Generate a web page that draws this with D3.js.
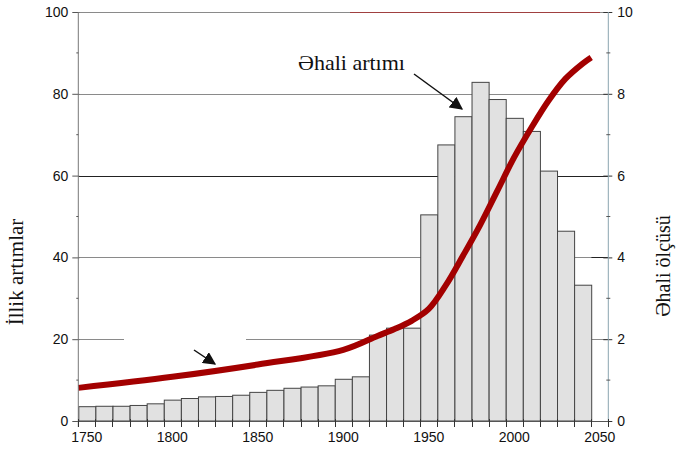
<!DOCTYPE html>
<html>
<head>
<meta charset="utf-8">
<script src="https://cdn.jsdelivr.net/npm/d3@7"></script>
<style>
  html, body { margin: 0; padding: 0; background: #fff; }
  svg { display: block; }
</style>
</head>
<body>
<svg id="chart" width="677" height="449"></svg>
<script>
// ---- data ----
const barYears = [1750,1760,1770,1780,1790,1800,1810,1820,1830,1840,1850,1860,1870,1880,1890,1900,1910,1920,1930,1940,1950,1960,1970,1980,1990,2000,2010,2020,2030,2040];
const annualIncrease = [3.5,3.6,3.6,3.8,4.2,5.1,5.5,5.9,6.0,6.3,7.0,7.5,8.0,8.3,8.6,10.2,10.8,21.0,22.7,22.7,50.4,67.5,74.4,82.8,78.6,74.0,70.8,61.1,46.4,33.2];
const popYears = [1745,1800,1850,1900,1920,1930,1940,1950,1960,1970,1980,1990,2000,2010,2020,2030,2040,2045];
const popSize  = [0.81,1.08,1.38,1.74,2.08,2.25,2.45,2.74,3.32,4.04,4.79,5.62,6.45,7.17,7.83,8.37,8.74,8.89];
const leftTicks = [0,20,40,60,80,100];
const rightTicks = [0,2,4,6,8,10];
const xLabels = [1750,1800,1850,1900,1950,2000,2050];
const leftTitle = "İllik artımlar";
const rightTitle = "Əhali ölçüsü";
const annotation = "Əhali artımı";

// ---- layout ----
const svg = d3.select("#chart");
const x0 = 78.3, x1 = 608.3, yTop = 12, yBot = 421;
const x = d3.scaleLinear().domain([1745, 2055]).range([x0, x1]);
const yL = d3.scaleLinear().domain([0, 100]).range([yBot, yTop]);
const yR = d3.scaleLinear().domain([0, 10]).range([yBot, yTop]);
const step = 10;

// gridlines
const grid = svg.append("g");
function hline(v, xa, xb, color, w) {
  grid.append("line").attr("x1", xa).attr("x2", xb)
    .attr("y1", Math.round(yL(v)) + 0.5).attr("y2", Math.round(yL(v)) + 0.5)
    .attr("stroke", color).attr("stroke-width", w || 1);
}
hline(100, x0, 350, "#8a8a8a");
hline(100, 350, 600, "#a04040");
hline(100, 600, x1, "#8a8a8a");
hline(80, x0, x1, "#8a8a8a");
hline(60, x0, x1, "#222");
hline(40, x0, x(2045), "#8a8a8a");
hline(40, x(2045), x1, "#222");
hline(20, x0, 124, "#8a8a8a");
hline(20, 246, x(2045), "#8a8a8a");
hline(20, x(2045), x1, "#8a8a8a");

// bars
svg.append("g").selectAll("rect").data(barYears).join("rect")
  .attr("x", (d) => x(d - step / 2) + 0.5)
  .attr("width", x(step) - x(0))
  .attr("y", (d, i) => yL(annualIncrease[i]))
  .attr("height", (d, i) => yBot - yL(annualIncrease[i]))
  .attr("fill", "#e1e1e1")
  .attr("stroke", "#444")
  .attr("stroke-width", 1);

// population curve
const line = d3.line().x((d) => x(d)).y((d, i) => yR(popSize[i])).curve(d3.curveCatmullRom.alpha(0.5));
svg.append("path").datum(popYears).attr("d", line)
  .attr("fill", "none").attr("stroke", "#a30000").attr("stroke-width", 6)
  .attr("stroke-linecap", "butt");

// axes
const font = "'Liberation Sans', Arial, sans-serif";
const serif = "'Liberation Serif', 'Times New Roman', serif";

// left axis
const gL = svg.append("g").attr("transform", `translate(${x0},0)`);
gL.call(d3.axisLeft(yL).tickValues(leftTicks).tickSize(6).tickPadding(4));
gL.call(g => g.select(".domain").remove());
gL.append("line").attr("x1", 0).attr("x2", 0).attr("y1", yTop).attr("y2", yBot + 6).attr("stroke", "#777");
gL.selectAll(".tick line").attr("stroke", "#555").attr("x2", -6).attr("x1", 1);
gL.selectAll(".tick text").attr("font-family", font).attr("font-size", 14).attr("fill", "#111");
gL.selectAll(".minor").data([10,30,50,70,90]).join("line").attr("class", "minor")
  .attr("x1", -2).attr("x2", 0).attr("y1", d => yL(d)).attr("y2", d => yL(d)).attr("stroke", "#555");

// right axis
const gR = svg.append("g").attr("transform", `translate(${x1},0)`);
gR.call(d3.axisRight(yR).tickValues(rightTicks).tickSize(4).tickPadding(5));
gR.call(g => g.select(".domain").remove());
gR.append("line").attr("x1", 0).attr("x2", 0).attr("y1", yTop).attr("y2", yBot).attr("stroke", "#8aa4b0");
gR.selectAll(".tick line").attr("stroke", "#333").attr("x1", -5);
gR.selectAll(".tick text").attr("font-family", font).attr("font-size", 14).attr("fill", "#111");
gR.selectAll(".minor").data([1,3,5,7,9]).join("line").attr("class", "minor")
  .attr("x1", -2).attr("x2", 2).attr("y1", d => yR(d)).attr("y2", d => yR(d)).attr("stroke", "#555");

// bottom axis
const edges = d3.range(1745, 2056, 10);
const gB = svg.append("g").attr("transform", `translate(0,${yBot})`);
gB.append("line").attr("x1", x0).attr("x2", x1).attr("y1", 0.5).attr("y2", 0.5).attr("stroke", "#555");
gB.selectAll(".edge").data(edges).join("line").attr("class", "edge")
  .attr("x1", d => Math.round(x(d)) + 0.5).attr("x2", d => Math.round(x(d)) + 0.5)
  .attr("y1", -2).attr("y2", 6).attr("stroke", "#333");
gB.selectAll(".lab").data(xLabels).join("text").attr("class", "lab")
  .attr("x", d => x(d)).attr("y", 21)
  .attr("text-anchor", "middle").attr("font-family", font).attr("font-size", 14)
  .attr("fill", "#111").text(d => d);

// titles
svg.append("text").attr("transform", "translate(23,272) rotate(-90)")
  .attr("text-anchor", "middle").attr("font-family", serif).attr("font-size", 21)
  .attr("fill", "#111").text(leftTitle);
svg.append("text").attr("transform", "translate(670,266) rotate(-90)")
  .attr("text-anchor", "middle").attr("font-family", serif).attr("font-size", 20)
  .attr("fill", "#111").text(rightTitle);

// annotation
svg.append("text").attr("x", 298).attr("y", 70).attr("font-family", serif)
  .attr("font-size", 22).attr("fill", "#111").text(annotation);

const defs = svg.append("defs");
defs.append("marker").attr("id", "ah").attr("viewBox", "0 0 10 10")
  .attr("refX", 9).attr("refY", 5).attr("markerWidth", 13).attr("markerHeight", 13)
  .attr("markerUnits", "userSpaceOnUse").attr("orient", "auto")
  .append("path").attr("d", "M0,0 L10,5 L0,10 z").attr("fill", "#111");

svg.append("line").attr("x1", 414).attr("y1", 74).attr("x2", 462).attr("y2", 109)
  .attr("stroke", "#111").attr("stroke-width", 1.5).attr("marker-end", "url(#ah)");
svg.append("line").attr("x1", 194).attr("y1", 350).attr("x2", 215).attr("y2", 364)
  .attr("stroke", "#111").attr("stroke-width", 1.5).attr("marker-end", "url(#ah)");
</script>
</body>
</html>
